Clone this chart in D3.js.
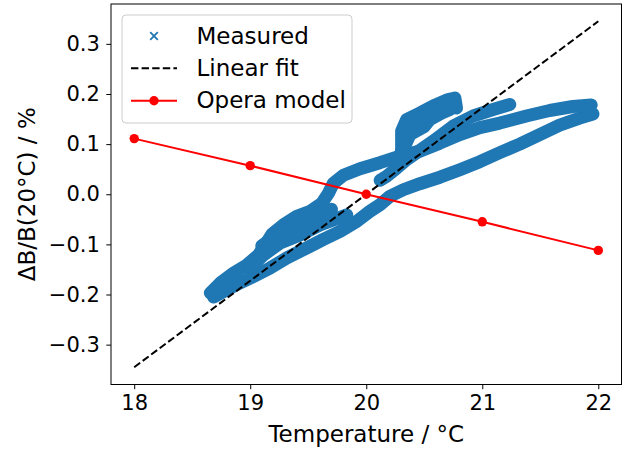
<!DOCTYPE html>
<html>
<head>
<meta charset="utf-8">
<script src="https://cdn.jsdelivr.net/npm/d3@7"></script>
<style>
  html, body { margin: 0; padding: 0; background: #fff; }
  svg { display: block; font-family: "DejaVu Sans", sans-serif; }
</style>
</head>
<body>
<svg id="chart" width="624" height="450"></svg>
<script>
// tick values
const xTicks = [18, 19, 20, 21, 22];
const yTicks = [-0.3, -0.2, -0.1, 0.0, 0.1, 0.2, 0.3];

// Opera model
const operaTemp = [18, 19, 20, 21, 22];
const operaValues = [0.111, 0.057, 0.0, -0.055, -0.112];

// linear fit end points
const fitTemp = [18, 22];
const fitValues = [-0.345, 0.345];

const measuredHeating = [
  [21.954, 0.160], [21.839, 0.152], [21.667, 0.138], [21.495, 0.119], [21.323, 0.100],
  [21.151, 0.083], [20.979, 0.065], [20.807, 0.049], [20.635, 0.034], [20.462, 0.021],
  [20.319, 0.009], [20.204, -0.004], [20.118, -0.021], [20.032, -0.034], [19.918, -0.054],
  [19.774, -0.074], [19.631, -0.090], [19.488, -0.107], [19.316, -0.127], [19.172, -0.147],
  [19.029, -0.164], [18.885, -0.180], [18.771, -0.194], [18.685, -0.205]
];
const measuredCooling = [
  [21.939, 0.178], [21.781, 0.175], [21.581, 0.167], [21.380, 0.156], [21.151, 0.142],
  [20.979, 0.133], [20.807, 0.119], [20.635, 0.102], [20.462, 0.086], [20.290, 0.076],
  [20.118, 0.063], [19.946, 0.051], [19.803, 0.038], [19.717, 0.022], [19.674, 0.002],
  [19.617, -0.018], [19.516, -0.034], [19.402, -0.044], [19.287, -0.061], [19.186, -0.080],
  [19.129, -0.101], [19.072, -0.121], [18.971, -0.141], [18.857, -0.157], [18.742, -0.177],
  [18.656, -0.197]
];
const measuredRidge = [
  [20.120, 0.028], [20.176, 0.036], [20.262, 0.052], [20.348, 0.069], [20.577, 0.106],
  [20.749, 0.136], [20.921, 0.156], [21.093, 0.169], [21.237, 0.179]
];
const measuredPeak = [
  [20.300, 0.078], [20.305, 0.093], [20.305, 0.126], [20.348, 0.149], [20.462, 0.162],
  [20.577, 0.176], [20.706, 0.189], [20.764, 0.192], [20.778, 0.172]
];
const measuredPeakInner = [
  [20.340, 0.100], [20.376, 0.119], [20.500, 0.135], [20.548, 0.149], [20.650, 0.162],
  [20.721, 0.169]
];
const measuredPeakTop = [
  [20.360, 0.135], [20.420, 0.145], [20.520, 0.158], [20.600, 0.165], [20.700, 0.178],
  [20.750, 0.182]
];
const measuredCore = [
  [19.832, -0.041], [19.717, -0.051], [19.602, -0.061], [19.430, -0.081], [19.258, -0.097],
  [19.115, -0.121], [19.000, -0.147]
];
const measuredCoreUpper = [
  [19.700, -0.030], [19.550, -0.045], [19.400, -0.062], [19.250, -0.078], [19.100, -0.103]
];
const measuredTraces = [measuredHeating, measuredCooling, measuredRidge, measuredPeak,
  measuredPeakInner, measuredPeakTop, measuredCore, measuredCoreUpper];

const svg = d3.select('#chart');
const frame = {left: 111, right: 621.5, top: 4, bottom: 384.5};
const tickFont = 21;
const labelFont = 23;
const blue = '#1f77b4';

const x = d3.scaleLinear().domain([17.8, 22.2]).range([frame.left, frame.right]);
const y = d3.scaleLinear().domain([-0.3795, 0.3795]).range([frame.bottom, frame.top]);

const line = d3.line().x(d => x(d[0])).y(d => y(d[1]));

// measured (dense scatter drawn as thick traces)
svg.append('g').selectAll('path').data(measuredTraces).enter().append('path')
  .attr('d', line)
  .attr('fill', 'none')
  .attr('stroke', blue)
  .attr('stroke-width', 13)
  .attr('stroke-linejoin', 'round')
  .attr('stroke-linecap', 'round');

// linear fit
svg.append('path')
  .attr('d', line(fitTemp.map((t, i) => [t, fitValues[i]])))
  .attr('fill', 'none')
  .attr('stroke', '#000')
  .attr('stroke-width', 2)
  .attr('stroke-dasharray', '7.4,3.2');

// opera model
const opera = operaTemp.map((t, i) => [t, operaValues[i]]);
svg.append('path')
  .attr('d', line(opera))
  .attr('fill', 'none')
  .attr('stroke', '#ff0000')
  .attr('stroke-width', 2);
svg.append('g').selectAll('circle').data(opera).enter().append('circle')
  .attr('cx', d => x(d[0]))
  .attr('cy', d => y(d[1]))
  .attr('r', 4.7)
  .attr('fill', '#ff0000');

// axes
const xAxis = svg.append('g')
  .attr('transform', `translate(0,${frame.bottom})`)
  .call(d3.axisBottom(x).tickValues(xTicks).tickFormat(d3.format('d')).tickSize(4.7).tickPadding(6));
const yAxis = svg.append('g')
  .attr('transform', `translate(${frame.left},0)`)
  .call(d3.axisLeft(y).tickValues(yTicks).tickFormat(d3.format('.1f')).tickSize(4.7).tickPadding(6.5));

[xAxis, yAxis].forEach(g => {
  g.select('.domain').remove();
  g.selectAll('line').attr('stroke', '#000').attr('stroke-width', 1);
  g.selectAll('text').attr('font-size', tickFont).attr('fill', '#000')
    .attr('font-family', '"DejaVu Sans", sans-serif');
});

// frame
svg.append('rect')
  .attr('x', frame.left).attr('y', frame.top)
  .attr('width', frame.right - frame.left).attr('height', frame.bottom - frame.top)
  .attr('fill', 'none').attr('stroke', '#000').attr('stroke-width', 1);

// axis labels
svg.append('text')
  .attr('x', (frame.left + frame.right) / 2).attr('y', 442)
  .attr('text-anchor', 'middle').attr('font-size', labelFont)
  .text('Temperature / °C');
svg.append('text')
  .attr('transform', `translate(35,${(frame.top + frame.bottom) / 2}) rotate(-90)`)
  .attr('text-anchor', 'middle').attr('font-size', labelFont)
  .text('ΔB/B(20°C) / %');

// legend
const legend = svg.append('g');
legend.append('rect')
  .attr('x', 122).attr('y', 15).attr('width', 230).attr('height', 108).attr('rx', 4)
  .attr('fill', '#fff').attr('fill-opacity', 0.8)
  .attr('stroke', '#cccccc').attr('stroke-width', 1);

const rows = [36, 68.3, 100.7];
const labels = ['Measured', 'Linear fit', 'Opera model'];
legend.selectAll('text').data(labels).enter().append('text')
  .attr('x', 196.5).attr('y', (d, i) => rows[i] + 7.5)
  .attr('font-size', labelFont).text(d => d);

// measured handle: x marker
legend.append('path')
  .attr('d', `M${154 - 3.8},${rows[0] - 3.8}L${154 + 3.8},${rows[0] + 3.8}M${154 - 3.8},${rows[0] + 3.8}L${154 + 3.8},${rows[0] - 3.8}`)
  .attr('stroke', blue).attr('stroke-width', 1.8);
// fit handle
legend.append('line')
  .attr('x1', 131).attr('x2', 177).attr('y1', rows[1]).attr('y2', rows[1])
  .attr('stroke', '#000').attr('stroke-width', 2).attr('stroke-dasharray', '7.4,3.2');
// opera handle
legend.append('line')
  .attr('x1', 131).attr('x2', 177).attr('y1', rows[2]).attr('y2', rows[2])
  .attr('stroke', '#ff0000').attr('stroke-width', 2);
legend.append('circle')
  .attr('cx', 154).attr('cy', rows[2]).attr('r', 4.7).attr('fill', '#ff0000');
</script>
</body>
</html>
